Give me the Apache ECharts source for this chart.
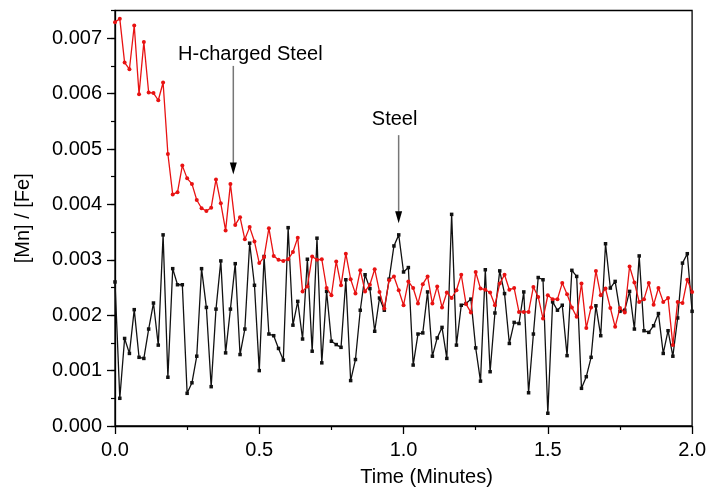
<!DOCTYPE html>
<html><head><meta charset="utf-8">
<script src="https://cdn.jsdelivr.net/npm/echarts@6/dist/echarts.min.js"></script>
<style>html,body{margin:0;padding:0;background:#fff}#c{width:709px;height:492px}</style>
</head><body><div id="c"></div>
<script>
// [Mn]/[Fe] ratios, in units of 1e-3, one sample per second
const hChargedSteel = [
7.29, 7.35, 6.56, 6.44, 7.23, 5.99, 6.93, 6.02, 6.01, 5.88,
6.20, 4.91, 4.18, 4.22, 4.70, 4.47, 4.37, 4.08, 3.93, 3.88,
3.94, 4.45, 4.02, 3.53, 4.37, 3.63, 3.77, 3.37, 3.59, 3.33,
2.94, 3.05, 3.57, 3.07, 3.00, 2.98, 3.01, 3.14, 3.40, 2.43,
2.52, 3.06, 3.00, 3.01, 2.49, 2.36, 2.97, 2.54, 3.11, 2.65,
2.39, 2.81, 2.43, 2.55, 2.83, 2.42, 2.12, 2.63, 2.70, 2.45,
2.18, 2.61, 2.49, 2.21, 2.56, 2.70, 2.21, 2.52, 2.14, 2.41,
2.31, 2.45, 2.73, 2.20, 2.05, 2.78, 2.48, 2.46, 2.41, 2.18,
2.57, 2.73, 2.46, 2.49, 2.06, 2.06, 2.06, 2.51, 2.33, 1.94,
2.36, 2.29, 2.29, 2.58, 2.38, 2.14, 1.97, 2.57, 1.77, 2.14,
2.80, 2.36, 2.48, 2.13, 1.79, 2.13, 2.05, 2.88, 2.59, 2.24,
2.29, 2.58, 2.19, 2.49, 2.24, 2.31, 1.46, 2.24, 2.22, 2.64,
2.42
];
const steel = [
2.60, 0.50, 1.58, 1.31, 2.10, 1.24, 1.22, 1.75, 2.22, 1.46,
3.45, 0.88, 2.84, 2.55, 2.55, 0.59, 0.78, 1.26, 2.84, 2.14,
0.71, 2.11, 2.98, 1.32, 2.11, 2.93, 1.29, 1.75, 3.30, 2.54,
1.00, 3.06, 1.66, 1.63, 1.40, 1.19, 3.58, 1.82, 2.25, 1.57,
3.01, 1.35, 3.39, 1.14, 2.43, 1.53, 1.47, 1.42, 2.64, 0.82,
1.20, 2.09, 2.73, 2.48, 1.71, 2.31, 2.09, 2.65, 3.25, 3.45,
2.78, 2.86, 1.10, 1.66, 1.68, 2.42, 1.26, 1.59, 1.78, 1.22,
3.82, 1.46, 2.18, 2.21, 2.29, 1.41, 0.81, 2.82, 0.98, 2.04,
2.80, 2.39, 1.49, 1.87, 1.85, 2.42, 0.60, 1.66, 2.68, 2.64,
0.23, 2.24, 2.09, 2.18, 1.27, 2.81, 2.70, 0.68, 0.89, 1.24,
2.17, 1.63, 3.29, 2.49, 2.61, 2.07, 2.09, 2.43, 1.75, 3.07,
1.72, 1.69, 1.81, 2.03, 1.31, 1.72, 1.26, 1.95, 2.94, 3.11,
2.07
];
const valueScale = 1e-3;
const samplesPerMinute = 60;
const xTicks = [0, 0.5, 1.0, 1.5, 2.0];
const yTicks = [0, 0.001, 0.002, 0.003, 0.004, 0.005, 0.006, 0.007];
const annotations = [
  {text: 'H-charged Steel', textX: 0.469, textY: 0.00671, arrowX: 0.410, fromY: 0.00650, toY: 0.00454},
  {text: 'Steel', textX: 0.969, textY: 0.00554, arrowX: 0.983, fromY: 0.00525, toY: 0.00366}
];

const FONT = 'Liberation Sans, Arial, sans-serif';
const toPairs = arr => arr.map((v, i) => [i / samplesPerMinute, v * valueScale]);

const chart = echarts.init(document.getElementById('c'), null, {renderer: 'canvas'});
const isMajorY = v => Math.abs(v * 1000 - Math.round(v * 1000)) < 1e-6;
chart.setOption({
  animation: false,
  backgroundColor: '#fff',
  grid: {left: 115, right: 14, top: 10.5, bottom: 59.3, show: true, borderColor: '#000', borderWidth: 1.3, backgroundColor: 'transparent'},
  xAxis: {
    type: 'value', min: 0, max: 2, interval: 0.5,
    axisLine: {show: true, onZero: false, lineStyle: {color: '#000', width: 1.3}},
    axisTick: {show: true, length: 8, lineStyle: {color: '#000', width: 1.3}},
    minorTick: {show: true, splitNumber: 2, length: 4, lineStyle: {color: '#000', width: 1.2}},
    splitLine: {show: false}, minorSplitLine: {show: false},
    axisLabel: {color: '#000', fontSize: 20, fontFamily: FONT, margin: 14, formatter: v => v.toFixed(1), customValues: xTicks},
    name: 'Time (Minutes)', nameLocation: 'middle', nameGap: 41,
    nameTextStyle: {color: '#000', fontSize: 20, fontFamily: FONT, padding: [0, 0, 0, 46]}
  },
  yAxis: [{
    type: 'value', min: 0, max: 0.0075, interval: 0.001,
    axisLine: {show: true, onZero: false, lineStyle: {color: '#000', width: 1.3}},
    axisTick: {show: true, length: 8, lineStyle: {color: '#000', width: 1.3}, customValues: yTicks},
    splitLine: {show: false},
    axisLabel: {color: '#000', fontSize: 20, fontFamily: FONT, margin: 13, customValues: yTicks,
      formatter: v => isMajorY(v) ? v.toFixed(3) : ''},
    name: '[Mn] / [Fe]', nameLocation: 'middle', nameGap: 82,
    nameTextStyle: {color: '#000', fontSize: 20, fontFamily: FONT}
  }, {
    type: 'value', min: 0, max: 0.0075, interval: 0.0005, position: 'left',
    axisLine: {show: false},
    axisTick: {show: true, length: 4, lineStyle: {color: '#000', width: 1.2}},
    axisLabel: {show: false}, splitLine: {show: false}
  }],
  series: [{
    name: 'H-charged Steel', type: 'line', data: toPairs(hChargedSteel),
    symbol: 'circle', symbolSize: 4, showSymbol: true,
    lineStyle: {color: '#e81212', width: 1.3}, itemStyle: {color: '#e81212'}, z: 3
  }, {
    name: 'Steel', type: 'line', data: toPairs(steel),
    symbol: 'rect', symbolSize: 3.5, showSymbol: true,
    lineStyle: {color: '#111', width: 1.3}, itemStyle: {color: '#111'}, z: 2
  }]
});

const graphics = [];
annotations.forEach(a => {
  const t = chart.convertToPixel({gridIndex: 0}, [a.textX, a.textY]);
  const p1 = chart.convertToPixel({gridIndex: 0}, [a.arrowX, a.fromY]);
  const p2 = chart.convertToPixel({gridIndex: 0}, [a.arrowX, a.toY]);
  const headLen = 12, headHalf = 3.5;
  graphics.push({type: 'text', x: t[0], y: t[1], style: {text: a.text, fill: '#000', font: '20px ' + FONT, align: 'center', verticalAlign: 'middle'}, z: 10});
  graphics.push({type: 'line', shape: {x1: p1[0], y1: p1[1], x2: p2[0], y2: p2[1] - headLen + 1}, style: {stroke: '#777', lineWidth: 1.5}, z: 10});
  graphics.push({type: 'polygon', shape: {points: [[p2[0] - headHalf, p2[1] - headLen], [p2[0] + headHalf, p2[1] - headLen], [p2[0], p2[1]]]}, style: {fill: '#000'}, z: 10});
});
chart.setOption({graphic: graphics});
</script>
</body></html>
